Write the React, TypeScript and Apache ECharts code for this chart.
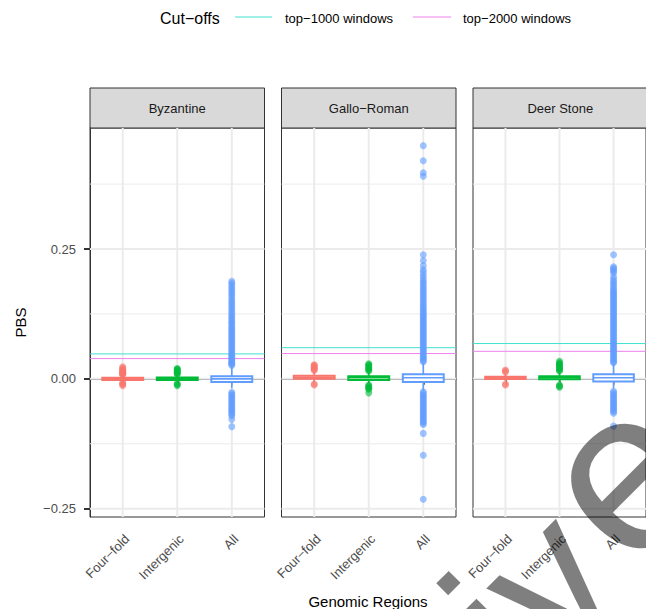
import React, { useEffect, useRef } from 'react';
import * as echarts from 'echarts';

// ---------- data ----------
const CATEGORIES = ['Four\u2212fold', 'Intergenic', 'All'];
const PANELS = ['Byzantine', 'Gallo\u2212Roman', 'Deer Stone'];
const Y_TICKS = [-0.25, 0, 0.25];
const Y_MINOR = [-0.125, 0.125, 0.375];
const X_TICKS = [1, 2, 3];
const CUTOFF_1000 = [0.048, 0.06, 0.068];
const CUTOFF_2000 = [0.039, 0.0487, 0.053];
const CUTOFF_NAMES = ['top\u22121000 windows', 'top\u22122000 windows'];

// [lower whisker, Q1, median, Q3, upper whisker] for Four-fold, Intergenic, All
const BYZ_STATS = [
  [-0.005, -0.002, 0.0, 0.002, 0.006],
  [-0.006, -0.002, 0.0005, 0.0025, 0.007],
  [-0.018, -0.006, 0.0, 0.005, 0.024],
];
const GR_STATS = [
  [-0.006, 0.0, 0.003, 0.006, 0.014],
  [-0.008, -0.002, 0.002, 0.005, 0.012],
  [-0.022, -0.006, 0.002, 0.009, 0.03],
];
const DS_STATS = [
  [-0.004, -0.0005, 0.002, 0.004, 0.009],
  [-0.007, -0.001, 0.002, 0.005, 0.012],
  [-0.018, -0.005, 0.002, 0.009, 0.028],
];

const BYZ_FOURFOLD_OUT = [0.008, 0.009, 0.01, 0.011, 0.012, 0.013, 0.014, 0.016, 0.017, 0.019, 0.021, 0.023, -0.008, -0.009, -0.011, -0.013];
const BYZ_INTERGENIC_OUT = [0.009, 0.01, 0.012, 0.013, 0.015, 0.017, 0.019, 0.02, -0.009, -0.011, -0.013];
const BYZ_ALL_OUT = [
  0.026, 0.028, 0.03, 0.032, 0.035, 0.037, 0.04, 0.043, 0.045, 0.048, 0.051, 0.054, 0.057, 0.06, 0.063, 0.066,
  0.069, 0.072, 0.075, 0.078, 0.081, 0.084, 0.087, 0.09, 0.093, 0.096, 0.099, 0.102, 0.106, 0.109, 0.112, 0.116,
  0.119, 0.123, 0.127, 0.131, 0.135, 0.139, 0.143, 0.147, 0.151, 0.155, 0.16, 0.164, 0.168, 0.172, 0.176, 0.18,
  0.184, 0.188,
  -0.026, -0.029, -0.032, -0.035, -0.038, -0.041, -0.044, -0.047, -0.05, -0.053, -0.056, -0.059, -0.062, -0.065,
  -0.068, -0.071, -0.078, -0.092,
];

const GR_FOURFOLD_OUT = [0.016, 0.018, 0.02, 0.022, 0.024, 0.026, 0.027, -0.01, -0.012];
const GR_INTERGENIC_OUT = [0.015, 0.017, 0.019, 0.021, 0.023, 0.025, 0.027, 0.029, -0.012, -0.014, -0.016, -0.018, -0.02, -0.027];
const GR_ALL_OUT = [
  0.033, 0.035, 0.038, 0.04, 0.043, 0.046, 0.049, 0.052, 0.055, 0.058, 0.061, 0.064, 0.067, 0.07, 0.073, 0.076,
  0.079, 0.082, 0.085, 0.088, 0.091, 0.094, 0.097, 0.1, 0.103, 0.106, 0.109, 0.112, 0.115, 0.118, 0.121, 0.124,
  0.127, 0.131, 0.134, 0.138, 0.141, 0.145, 0.149, 0.153, 0.157, 0.161, 0.165, 0.169, 0.173, 0.177, 0.181, 0.185,
  0.189, 0.194, 0.199, 0.205, 0.21, 0.218, 0.228, 0.239, 0.39, 0.397, 0.42, 0.449,
  -0.025, -0.028, -0.031, -0.034, -0.037, -0.04, -0.043, -0.046, -0.049, -0.052, -0.055, -0.058, -0.061, -0.064,
  -0.067, -0.07, -0.073, -0.076, -0.079, -0.082, -0.085, -0.088, -0.105, -0.147, -0.232,
];

const DS_FOURFOLD_OUT = [0.013, 0.015, 0.017, -0.01, -0.012];
const DS_INTERGENIC_OUT = [0.015, 0.017, 0.019, 0.021, 0.023, 0.025, 0.027, 0.029, 0.031, 0.034, -0.012, -0.014, -0.016];
const DS_ALL_OUT = [
  0.031, 0.033, 0.036, 0.039, 0.042, 0.045, 0.048, 0.051, 0.054, 0.057, 0.06, 0.063, 0.066, 0.069, 0.072, 0.075,
  0.078, 0.081, 0.084, 0.087, 0.09, 0.093, 0.096, 0.099, 0.102, 0.105, 0.108, 0.111, 0.114, 0.117, 0.12, 0.123,
  0.126, 0.129, 0.132, 0.135, 0.138, 0.141, 0.144, 0.147, 0.15, 0.153, 0.156, 0.159, 0.162, 0.165, 0.168, 0.171,
  0.175, 0.179, 0.183, 0.187, 0.191, 0.196, 0.204, 0.207, 0.21, 0.213, 0.216, 0.239,
  -0.024, -0.027, -0.03, -0.033, -0.036, -0.039, -0.042, -0.045, -0.048, -0.051, -0.054, -0.057, -0.06, -0.063,
  -0.066, -0.091,
];

const PANEL_STATS = [BYZ_STATS, GR_STATS, DS_STATS];
const PANEL_OUTLIERS = [
  [BYZ_FOURFOLD_OUT, BYZ_INTERGENIC_OUT, BYZ_ALL_OUT],
  [GR_FOURFOLD_OUT, GR_INTERGENIC_OUT, GR_ALL_OUT],
  [DS_FOURFOLD_OUT, DS_INTERGENIC_OUT, DS_ALL_OUT],
];

// ---------- layout / style ----------
const COLORS = ['#F8766D', '#00BA38', '#619CFF'];
const CUT_COLORS = ['#40E0D0', '#EE82EE'];
const GRID_COLOR = '#ebebeb';
const FONT = '"Liberation Sans", Arial, Helvetica, sans-serif';
const PANEL_LEFT = [90, 281.5, 473];
const PANEL_W = 174.5;
const PANEL_TOP = 128;
const PANEL_H = 389;
const STRIP_TOP = 88;
const STRIP_H = 40;
const Y_MIN = -0.266;
const Y_MAX = 0.483;
const X_MIN = 0.4;
const X_MAX = 3.6;

function hLineItem(lineWidth: number, colorOf: (params: any, api: any) => string) {
  return (params: any, api: any) => {
    const cs = params.coordSys;
    const y = api.coord([X_TICKS[0], api.value(0)])[1];
    return {
      type: 'line',
      shape: { x1: cs.x, y1: y, x2: cs.x + cs.width, y2: y },
      style: { stroke: colorOf(params, api), lineWidth },
      silent: true,
    };
  };
}

function buildOption() {
  const grid = PANEL_LEFT.map((left) => ({
    left,
    top: PANEL_TOP,
    width: PANEL_W,
    height: PANEL_H,
    show: true,
    borderColor: '#333333',
    borderWidth: 1,
    backgroundColor: '#ffffff',
    containLabel: false,
  }));

  const xAxis = PANELS.map((_, i) => ({
    type: 'value',
    gridIndex: i,
    min: X_MIN,
    max: X_MAX,
    axisLine: { show: true, lineStyle: { color: '#333333', width: 1 } },
    axisTick: { show: true, length: 6, customValues: X_TICKS, lineStyle: { color: '#333333', width: 2 } },
    axisLabel: {
      show: true,
      customValues: X_TICKS,
      formatter: (v: number) => CATEGORIES[Math.round(v) - 1] ?? '',
      rotate: 45,
      margin: 24,
      padding: [0, -6, 0, 0],
      fontSize: 13,
      color: '#4d4d4d',
      fontFamily: FONT,
    },
    splitLine: { show: false },
  }));

  const yAxis = PANELS.map((_, i) => ({
    type: 'value',
    gridIndex: i,
    min: Y_MIN,
    max: Y_MAX,
    axisLine: { show: i === 0, lineStyle: { color: '#333333', width: 1 } },
    axisTick: { show: i === 0, length: 6, customValues: Y_TICKS, lineStyle: { color: '#333333', width: 2 } },
    axisLabel: {
      show: i === 0,
      customValues: Y_TICKS,
      formatter: (v: number) => {
        const s = Math.abs(v).toFixed(2);
        return v < -1e-9 ? '\u2212' + s : s;
      },
      margin: 14,
      fontSize: 13,
      color: '#4d4d4d',
      fontFamily: FONT,
    },
    splitLine: { show: false },
  }));

  const series: any[] = [];
  PANELS.forEach((_, i) => {
    // minor horizontal grid lines
    series.push({
      type: 'custom',
      xAxisIndex: i,
      yAxisIndex: i,
      z: 1,
      silent: true,
      encode: { y: 0 },
      data: Y_MINOR.map((v) => [v]),
      renderItem: hLineItem(1, () => GRID_COLOR),
    });
    // major horizontal grid lines
    series.push({
      type: 'custom',
      xAxisIndex: i,
      yAxisIndex: i,
      z: 1,
      silent: true,
      encode: { y: 0 },
      data: Y_TICKS.map((v) => [v]),
      renderItem: hLineItem(2, () => GRID_COLOR),
    });
    // vertical grid lines
    series.push({
      type: 'custom',
      xAxisIndex: i,
      yAxisIndex: i,
      z: 1,
      silent: true,
      encode: { x: 0 },
      data: X_TICKS.map((v) => [v]),
      renderItem: (params: any, api: any) => {
        const cs = params.coordSys;
        const x = api.coord([api.value(0), 0])[0];
        return {
          type: 'line',
          shape: { x1: x, y1: cs.y, x2: x, y2: cs.y + cs.height },
          style: { stroke: GRID_COLOR, lineWidth: 2 },
          silent: true,
        };
      },
    });
    // cut-off lines
    series.push({
      type: 'custom',
      name: 'Cut-offs',
      xAxisIndex: i,
      yAxisIndex: i,
      z: 2,
      silent: true,
      encode: { y: 0 },
      data: [[CUTOFF_1000[i], 0], [CUTOFF_2000[i], 1]],
      renderItem: hLineItem(1, (params: any, api: any) => CUT_COLORS[api.value(1)]),
    });
    // boxes
    series.push({
      type: 'custom',
      xAxisIndex: i,
      yAxisIndex: i,
      z: 3,
      silent: true,
      encode: { x: 0, y: [1, 2, 3, 4, 5] },
      data: PANEL_STATS[i].map((s, k) => [X_TICKS[k], ...s]),
      renderItem: (params: any, api: any) => {
        const x = api.value(0);
        const lo = api.coord([x, api.value(1)]);
        const q1 = api.coord([x, api.value(2)]);
        const med = api.coord([x, api.value(3)]);
        const q3 = api.coord([x, api.value(4)]);
        const hi = api.coord([x, api.value(5)]);
        const w = api.size([0.75, 0])[0];
        const color = COLORS[params.dataIndex];
        const lw = 2;
        return {
          type: 'group',
          children: [
            { type: 'line', shape: { x1: lo[0], y1: lo[1], x2: q1[0], y2: q1[1] }, style: { stroke: color, lineWidth: 1.6 } },
            { type: 'line', shape: { x1: q3[0], y1: q3[1], x2: hi[0], y2: hi[1] }, style: { stroke: color, lineWidth: 1.6 } },
            {
              type: 'rect',
              shape: { x: q3[0] - w / 2, y: q3[1], width: w, height: q1[1] - q3[1] },
              style: { fill: '#ffffff', stroke: color, lineWidth: lw },
            },
            { type: 'line', shape: { x1: q3[0] - w / 2, y1: med[1], x2: q3[0] + w / 2, y2: med[1] }, style: { stroke: color, lineWidth: 1.6 } },
          ],
        };
      },
    });
    // outliers
    PANEL_OUTLIERS[i].forEach((vals, k) => {
      series.push({
        type: 'scatter',
        name: CATEGORIES[k],
        xAxisIndex: i,
        yAxisIndex: i,
        z: 4,
        silent: true,
        symbol: 'circle',
        symbolSize: 7,
        itemStyle: { color: COLORS[k], opacity: 0.6 },
        data: vals.map((v) => [X_TICKS[k], v]),
      });
    });
  });

  const txt = (text: string, x: number, y: number, size: number, fill: string, align: string, extra: any = {}) => ({
    type: 'text',
    x,
    y,
    silent: true,
    ...extra,
    style: {
      text,
      fill,
      font: `${size}px ${FONT}`,
      textAlign: align,
      textVerticalAlign: 'middle',
      align,
      verticalAlign: 'middle',
    },
  });

  const graphic: any[] = [];
  PANELS.forEach((p, i) => {
    graphic.push({
      type: 'rect',
      shape: { x: PANEL_LEFT[i], y: STRIP_TOP, width: PANEL_W, height: STRIP_H },
      style: { fill: '#d9d9d9', stroke: '#333333', lineWidth: 1 },
      silent: true,
    });
    graphic.push(txt(p, PANEL_LEFT[i] + PANEL_W / 2, STRIP_TOP + STRIP_H / 2, 13, '#1a1a1a', 'center'));
  });
  // axis titles
  graphic.push(txt('PBS', 20, PANEL_TOP + PANEL_H / 2, 15, '#000', 'center', { rotation: Math.PI / 2 }));
  graphic.push(txt('Genomic Regions', 368, 601, 15, '#000', 'center'));
  // legend
  graphic.push(txt('Cut\u2212offs', 160, 18, 16, '#000', 'left'));
  graphic.push({ type: 'line', shape: { x1: 235, y1: 17, x2: 272, y2: 17 }, style: { stroke: CUT_COLORS[0], lineWidth: 1 }, silent: true });
  graphic.push(txt(CUTOFF_NAMES[0], 285, 18, 13, '#000', 'left'));
  graphic.push({ type: 'line', shape: { x1: 413, y1: 17, x2: 451, y2: 17 }, style: { stroke: CUT_COLORS[1], lineWidth: 1 }, silent: true });
  graphic.push(txt(CUTOFF_NAMES[1], 463, 18, 13, '#000', 'left'));
  // watermark
  const wm = 'rgba(0,0,0,0.5)';
  graphic.push({ ...txt('iv', 480, 646, 200, wm, 'left', { rotation: Math.PI / 4 }), z: 100 });
  graphic.push({ ...txt('e', 574, 518, 232, wm, 'left', { rotation: Math.PI / 4 }), z: 100 });

  return {
    animation: false,
    backgroundColor: '#ffffff',
    textStyle: { fontFamily: FONT },
    grid,
    xAxis,
    yAxis,
    series,
    graphic: { elements: graphic },
  };
}

export default function App() {
  const ref = useRef<HTMLDivElement>(null);
  useEffect(() => {
    if (!ref.current) return;
    const chart = echarts.init(ref.current, null, { renderer: 'svg' });
    chart.setOption(buildOption() as any);
    return () => chart.dispose();
  }, []);
  return (
    <div
      ref={ref}
      style={{ position: 'fixed', left: 0, top: 0, width: 646, height: 609, background: '#fff' }}
    />
  );
}
